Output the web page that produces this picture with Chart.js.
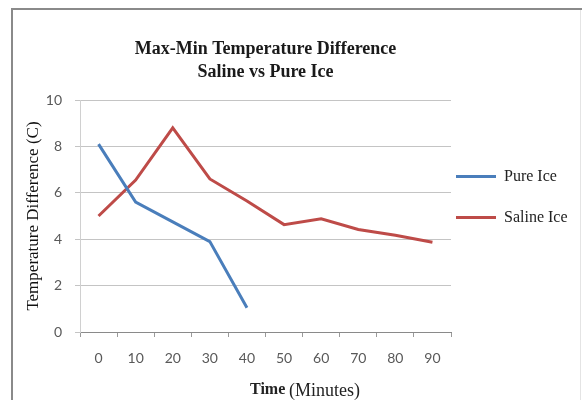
<!DOCTYPE html>
<html>
<head>
<meta charset="utf-8">
<script src="https://cdn.jsdelivr.net/npm/chart.js@4/dist/chart.umd.min.js"></script>
<style>
html,body{margin:0;padding:0;background:#fff;}
#wrap{width:582px;height:400px;position:relative;}
</style>
</head>
<body>
<div id="wrap"><canvas id="c" width="582" height="400"></canvas></div>
<script>
const categories = ['0','10','20','30','40','50','60','70','80','90'];
const pureIce = [8.1, 5.6, 4.75, 3.9, 1.05, null, null, null, null, null];
const salineIce = [5.0, 6.55, 8.8, 6.6, 5.65, 4.63, 4.88, 4.42, 4.17, 3.87];
const yTicks = [0, 2, 4, 6, 8, 10];
const titleLines = ['Max-Min Temperature Difference', 'Saline vs Pure Ice'];
const yTitle = 'Temperature Difference (C)';
const xTitleA = 'Time';
const xTitleB = '(Minutes)';

const frame = {
  id: 'frame',
  afterLayout(chart) {
    const lg = chart.legend;
    if (lg) { lg.left -= 20; lg.width += 20; lg.top -= 3; lg.bottom -= 3; }
  },
  beforeDraw(chart) {
    const ctx = chart.ctx;
    ctx.save();
    ctx.fillStyle = '#fff';
    ctx.fillRect(0, 0, chart.width, chart.height);
    ctx.strokeStyle = '#8a8a8a';
    ctx.lineWidth = 2;
    ctx.beginPath();
    ctx.moveTo(12, 400);
    ctx.lineTo(12, 9);
    ctx.lineTo(582, 9);
    ctx.stroke();
    ctx.strokeStyle = '#e4e4e4';
    ctx.lineWidth = 1;
    ctx.beginPath();
    ctx.moveTo(580.5, 10);
    ctx.lineTo(580.5, 400);
    ctx.stroke();
    ctx.restore();
  },
  afterDraw(chart) {
    const ctx = chart.ctx;
    ctx.save();
    ctx.fillStyle = '#222';
    ctx.textBaseline = 'alphabetic';
    ctx.font = 'bold 16px "Liberation Serif"';
    ctx.fillText(xTitleA, 250, 394);
    ctx.font = '18px "Liberation Serif"';
    ctx.fillText(xTitleB, 289, 396);
    ctx.restore();
  }
};

new Chart(document.getElementById('c'), {
  type: 'line',
  data: {
    labels: categories,
    datasets: [
      { label: 'Pure Ice', data: pureIce, borderColor: '#4a7ebb', backgroundColor: '#4a7ebb', borderWidth: 3, pointRadius: 0, tension: 0, spanGaps: false },
      { label: 'Saline Ice', data: salineIce, borderColor: '#be4b48', backgroundColor: '#be4b48', borderWidth: 3, pointRadius: 0, tension: 0 }
    ]
  },
  options: {
    responsive: false,
    animation: false,
    layout: { padding: { left: 0, right: 0, top: 0, bottom: 0 } },
    plugins: {
      title: {
        display: true,
        fullSize: false,
        text: titleLines,
        font: { family: '"Liberation Serif"', size: 18, weight: 'bold', lineHeight: 1.28 },
        color: '#1a1a1a',
        padding: { top: 38, bottom: 16 }
      },
      legend: {
        position: 'right',
        align: 'center',
        maxWidth: 131,
        labels: {
          usePointStyle: true,
          pointStyle: 'line',
          pointStyleWidth: 40,
          boxWidth: 40,
          padding: 25,
          color: '#222',
          font: { family: '"Liberation Serif"', size: 16 }
        }
      },
      tooltip: { enabled: false }
    },
    scales: {
      x: {
        offset: true,
        grid: { offset: true, drawOnChartArea: false, drawTicks: true, tickLength: 5, color: '#9a9a9a' },
        border: { color: '#8a8a8a', width: 1 },
        ticks: { color: '#595959', font: { family: 'Lato', size: 14 }, padding: 13, maxRotation: 0 },
        afterFit(s) { s.height = 68; }
      },
      y: {
        min: 0, max: 10,
        afterBuildTicks(s) { s.ticks = yTicks.map(v => ({ value: v })); },
        grid: { color: '#c4c4c4', tickLength: 5 },
        border: { color: '#d0d0d0', width: 1 },
        ticks: { color: '#595959', font: { family: 'Lato', size: 14 }, padding: 13 },
        title: { display: true, text: yTitle, color: '#111', font: { family: '"Liberation Serif"', size: 17 }, padding: { top: 23, bottom: 0 } },
        afterFit(s) { s.width = 80; }
      }
    }
  },
  plugins: [frame]
});
</script>
</body>
</html>
